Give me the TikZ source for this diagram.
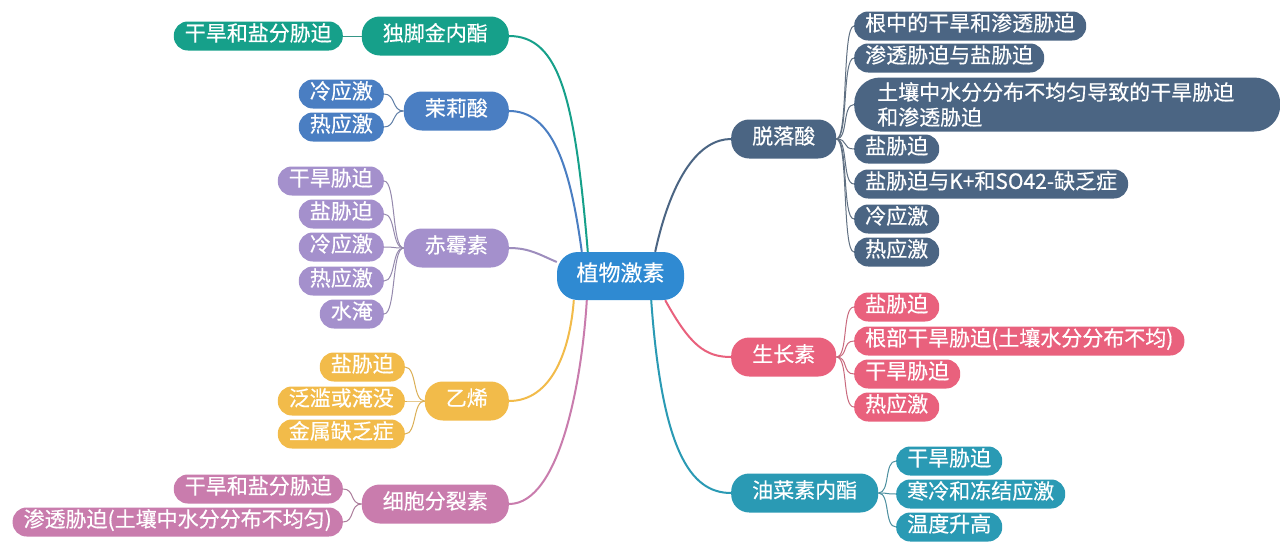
\documentclass[tikz,border=0pt]{standalone}
\usepackage{fontspec}
\setmainfont{Noto Sans CJK SC}[FakeBold=0.4]
\definecolor{cR}{RGB}{47,138,210}
\definecolor{cS}{RGB}{22,160,138}
\definecolor{cJ}{RGB}{74,126,194}
\definecolor{cG}{RGB}{164,144,204}
\definecolor{cE}{RGB}{242,187,74}
\definecolor{cC}{RGB}{201,124,173}
\definecolor{cA}{RGB}{75,101,131}
\definecolor{cX}{RGB}{233,97,125}
\definecolor{cB}{RGB}{42,154,180}
\tikzset{
  base/.style={rectangle, text=white, inner ysep=0pt, text height=0.98em, text depth=0em, font=\fontsize{21}{25}\selectfont},
  leaf/.style={base, minimum height=29pt, rounded corners=14pt, inner xsep=11pt},
  mainbox/.style={base, minimum height=39pt, rounded corners=18pt, inner xsep=21pt},
  rootbox/.style={base, fill=cR, minimum height=48pt, minimum width=127pt, rounded corners=21pt, font=\fontsize{22}{26}\selectfont},
  twoline/.style={rectangle, text=white, font=\fontsize{21}{25}\selectfont, align=left, text width=380pt, inner xsep=23pt, inner ysep=0pt, minimum height=54pt, rounded corners=26pt},
  link/.style={line width=2pt},
  sublink/.style={line width=1pt},
}
\begin{document}
\begin{tikzpicture}[x=1pt,y=-1pt]
\useasboundingbox (0,0) rectangle (1280,546);
\fill[white] (0,0) rectangle (1280,546);

% root
\node[rootbox] (r) at (620.5,276) {植物激素};

% left branches
\node[mainbox, fill=cS, anchor=east] (s) at (509,36) {独脚金内酯};
\node[leaf, fill=cS, anchor=east] (s1) at (343,36) {干旱和盐分胁迫};

\node[mainbox, fill=cJ, anchor=east] (j) at (509,111) {茉莉酸};
\node[leaf, fill=cJ, anchor=east] (j1) at (384,94) {冷应激};
\node[leaf, fill=cJ, anchor=east] (j2) at (384,127) {热应激};

\node[mainbox, fill=cG, anchor=east] (g) at (509,248) {赤霉素};
\node[leaf, fill=cG, anchor=east] (g1) at (384,181) {干旱胁迫};
\node[leaf, fill=cG, anchor=east] (g2) at (384,214) {盐胁迫};
\node[leaf, fill=cG, anchor=east] (g3) at (384,247) {冷应激};
\node[leaf, fill=cG, anchor=east] (g4) at (384,281) {热应激};
\node[leaf, fill=cG, anchor=east] (g5) at (384,314) {水淹};

\node[mainbox, fill=cE, anchor=east] (e) at (509,401) {乙烯};
\node[leaf, fill=cE, anchor=east] (e1) at (405,367) {盐胁迫};
\node[leaf, fill=cE, anchor=east] (e2) at (405,401) {泛滥或淹没};
\node[leaf, fill=cE, anchor=east] (e3) at (405,434) {金属缺乏症};

\node[mainbox, fill=cC, anchor=east] (c) at (509,504) {细胞分裂素};
\node[leaf, fill=cC, anchor=east] (c1) at (343,489) {干旱和盐分胁迫};
\node[leaf, fill=cC, anchor=east] (c2) at (343,522) {渗透胁迫(土壤中水分分布不均匀)};

% right branches
\node[mainbox, fill=cA, anchor=west] (a) at (731,139) {脱落酸};
\node[leaf, fill=cA, anchor=west] (a1) at (854,26) {根中的干旱和渗透胁迫};
\node[leaf, fill=cA, anchor=west] (a2) at (854,58) {渗透胁迫与盐胁迫};
\node[twoline, fill=cA, anchor=west] (a3) at (854,104.5) {土壤中水分分布不均匀导致的干旱胁迫\\和渗透胁迫};
\node[leaf, fill=cA, anchor=west] (a4) at (854,149) {盐胁迫};
\node[leaf, fill=cA, anchor=west] (a5) at (854,184) {盐胁迫与K+和SO42-缺乏症};
\node[leaf, fill=cA, anchor=west] (a6) at (854,219) {冷应激};
\node[leaf, fill=cA, anchor=west] (a7) at (854,252) {热应激};

\node[mainbox, fill=cX, anchor=west] (x) at (731,357) {生长素};
\node[leaf, fill=cX, anchor=west] (x1) at (854,307) {盐胁迫};
\node[leaf, fill=cX, anchor=west] (x2) at (854,341) {根部干旱胁迫(土壤水分分布不均)};
\node[leaf, fill=cX, anchor=west] (x3) at (854,374) {干旱胁迫};
\node[leaf, fill=cX, anchor=west] (x4) at (854,407) {热应激};

\node[mainbox, fill=cB, anchor=west] (b) at (731,493) {油菜素内酯};
\node[leaf, fill=cB, anchor=west] (b1) at (896,461) {干旱胁迫};
\node[leaf, fill=cB, anchor=west] (b2) at (896,494) {寒冷和冻结应激};
\node[leaf, fill=cB, anchor=west] (b3) at (896,527) {温度升高};

% main connectors
\draw[link, cS] (s.east) .. controls (560,36) and (575,100) .. ([xshift=31pt]r.north west);
\draw[link, cJ] (j.east) .. controls (552,111) and (570,165) .. ([xshift=25pt]r.north west);
\draw[link, cG!80!gray] (g.east) .. controls (530,248) and (540,255) .. ([yshift=14pt]r.west);
\draw[link, cE] (e.east) .. controls (552,401) and (570,350) .. ([xshift=17pt]r.south west);
\draw[link, cC] (c.east) .. controls (560,504) and (582,380) .. ([xshift=30pt]r.south west);
\draw[link, cA] ([xshift=-29pt]r.north east) .. controls (672,175) and (700,139) .. (a.west);
\draw[link, cX] ([xshift=-19pt]r.south east) .. controls (690,345) and (705,357) .. (x.west);
\draw[link, cB] ([xshift=-33pt]r.south east) .. controls (662,450) and (690,493) .. (b.west);

% sub connectors
\draw[sublink, cS!70!gray] (s.west) -- (s1.east);
\foreach \i in {1,2} \draw[sublink, cJ!60!gray] (j.west) .. controls +(-12,0) and +(12,0) .. (j\i.east);
\foreach \i in {1,...,5} \draw[sublink, cG!60!gray] (g.west) .. controls +(-12,0) and +(12,0) .. (g\i.east);
\foreach \i in {1,2,3} \draw[sublink, cE!80!gray] (e.west) .. controls +(-12,0) and +(12,0) .. (e\i.east);
\foreach \i in {1,2} \draw[sublink, cC!60!gray] (c.west) .. controls +(-12,0) and +(12,0) .. (c\i.east);
\foreach \i in {1,...,7} \draw[sublink, cA!60!gray] (a.east) .. controls +(12,0) and +(-12,0) .. (a\i.west);
\foreach \i in {1,...,4} \draw[sublink, cX!70!gray] (x.east) .. controls +(12,0) and +(-12,0) .. (x\i.west);
\foreach \i in {1,2,3} \draw[sublink, cB!60!gray] (b.east) .. controls +(12,0) and +(-12,0) .. (b\i.west);
\end{tikzpicture}
\end{document}
